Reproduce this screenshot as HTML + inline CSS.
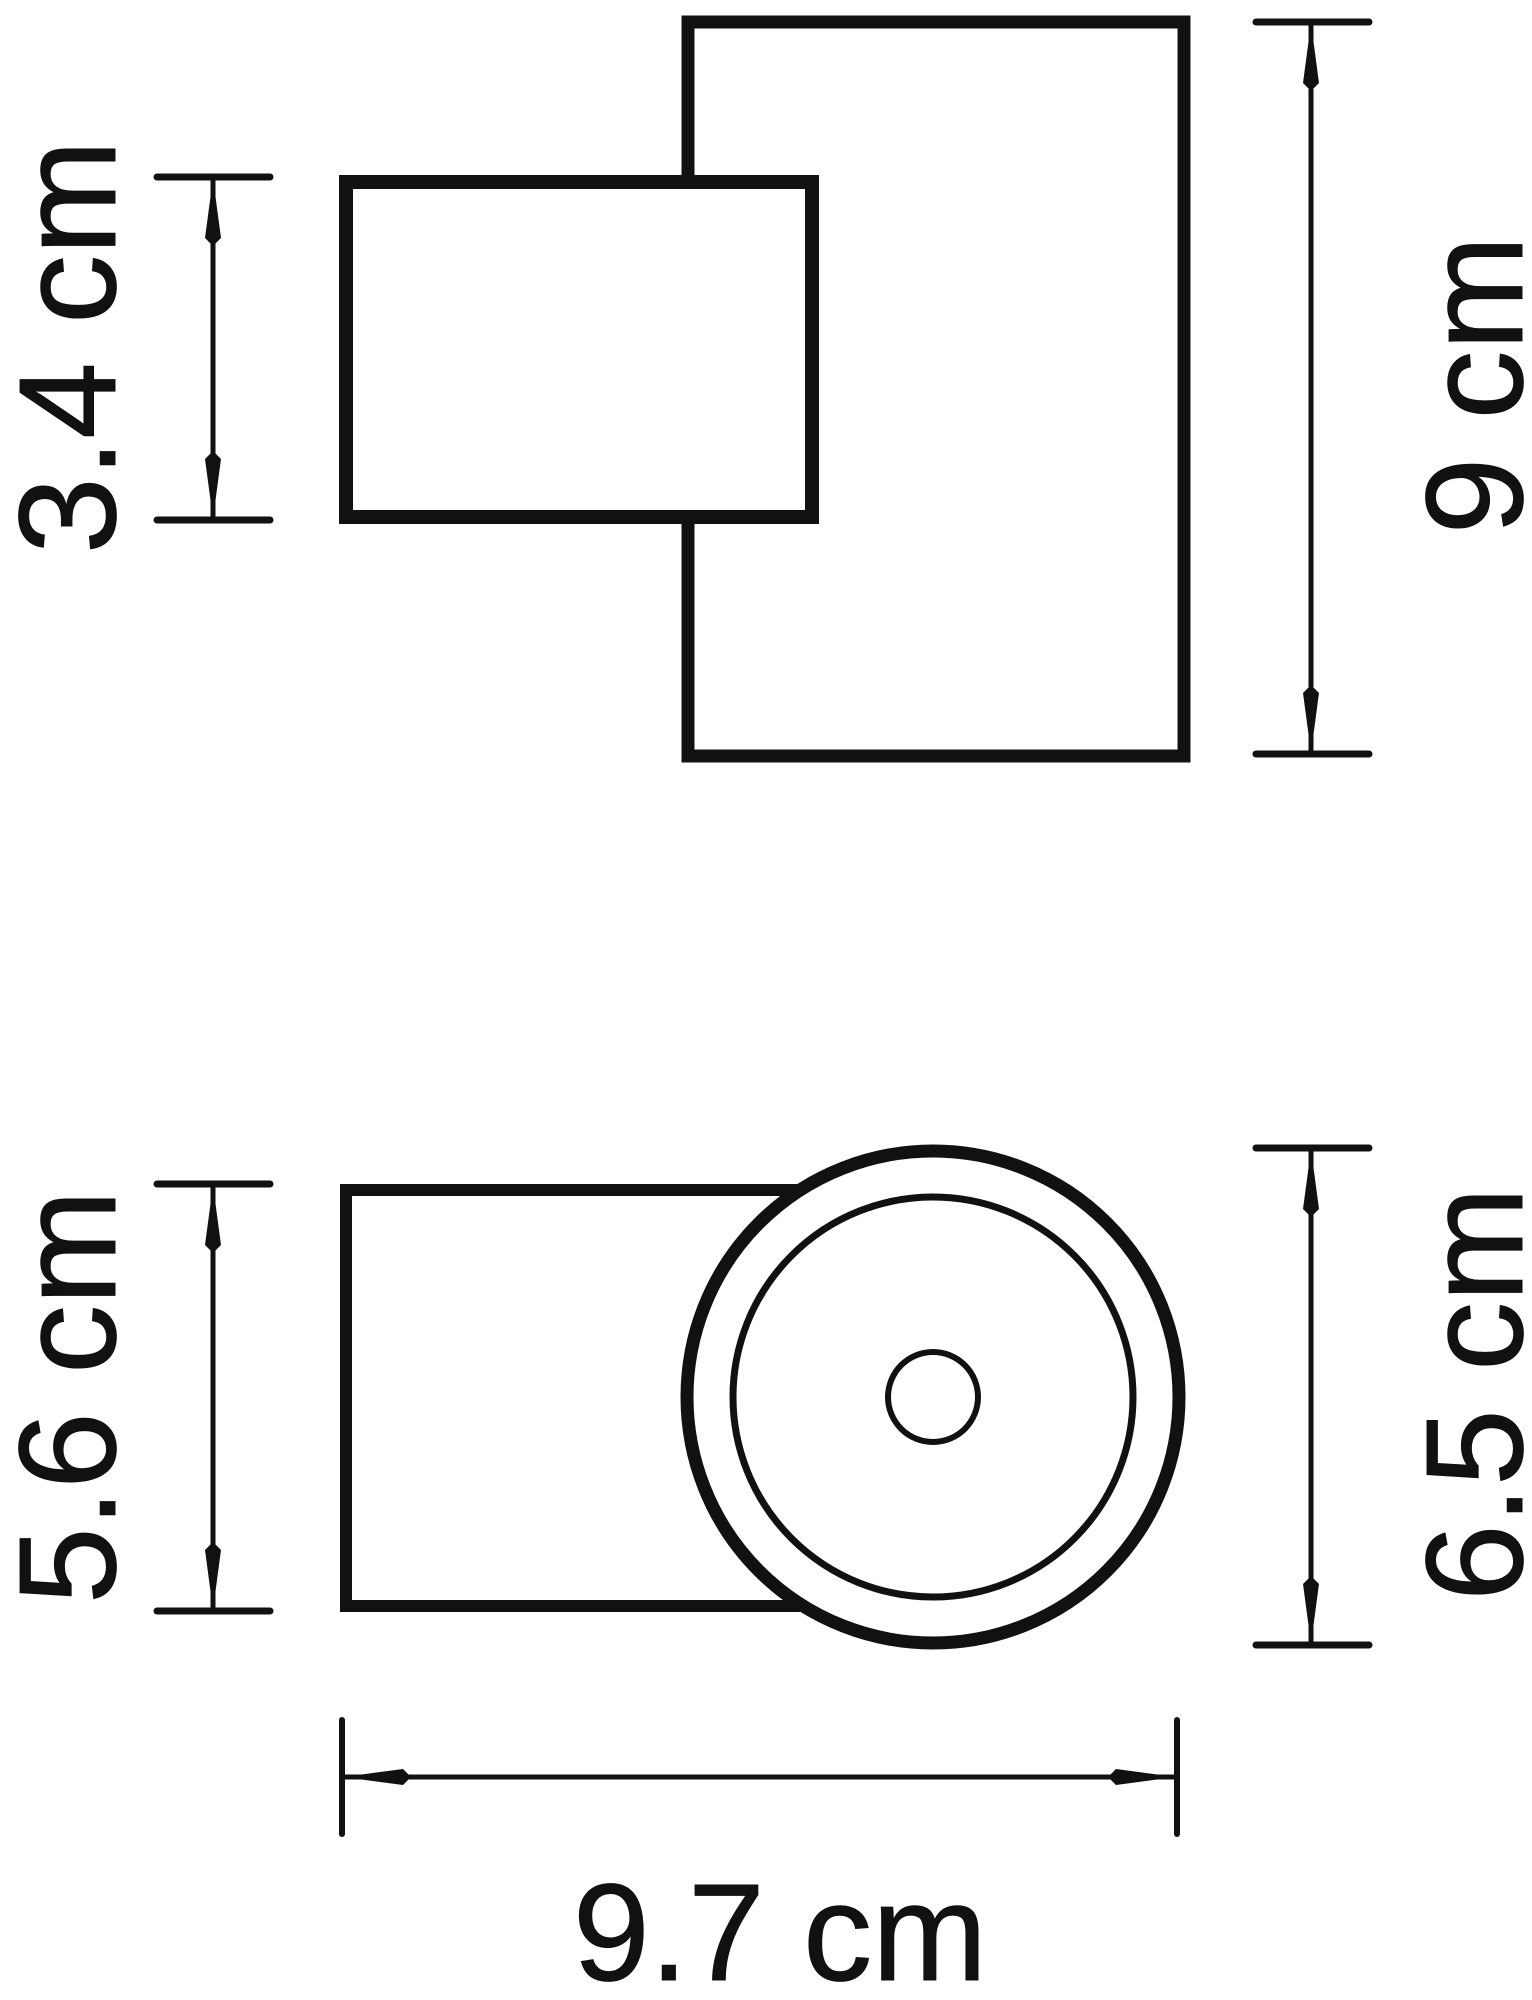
<!DOCTYPE html>
<html><head><meta charset="utf-8"><style>html,body{margin:0;padding:0;background:#fff}svg{display:block}</style></head>
<body>
<svg width="1532" height="2000" viewBox="0 0 1532 2000" xmlns="http://www.w3.org/2000/svg" font-family="Liberation Sans, sans-serif">
<g fill="none" stroke="#111" stroke-linecap="square">
<rect x="688" y="22" width="496" height="734" stroke-width="13"/>
<rect x="346" y="182" width="466" height="335" stroke-width="14" fill="#fff"/>
</g>
<g stroke="#111" stroke-linecap="round">
<line x1="157" y1="177" x2="270" y2="177" stroke-width="7"/>
<line x1="157" y1="520" x2="270" y2="520" stroke-width="7"/>
<line x1="213" y1="177" x2="213" y2="520" stroke-width="5"/>
<line x1="1256" y1="22" x2="1369" y2="22" stroke-width="7"/>
<line x1="1256" y1="754" x2="1369" y2="754" stroke-width="7"/>
<line x1="1311" y1="22" x2="1311" y2="754" stroke-width="5"/>
<line x1="157" y1="1184" x2="270" y2="1184" stroke-width="7"/>
<line x1="157" y1="1611" x2="270" y2="1611" stroke-width="7"/>
<line x1="213" y1="1184" x2="213" y2="1611" stroke-width="5"/>
<line x1="1256" y1="1148" x2="1369" y2="1148" stroke-width="7"/>
<line x1="1256" y1="1645" x2="1369" y2="1645" stroke-width="7"/>
<line x1="1311" y1="1148" x2="1311" y2="1645" stroke-width="5"/>
<line x1="342" y1="1720" x2="342" y2="1834" stroke-width="6"/>
<line x1="1177" y1="1720" x2="1177" y2="1834" stroke-width="6"/>
<line x1="342" y1="1777" x2="1177" y2="1777" stroke-width="5"/>
</g>
<g fill="#111">
<polygon points="213,178 221,238 213,246 205,238"/>
<polygon points="213,519 221,459 213,451 205,459"/>
<polygon points="1311,23 1319,83 1311,91 1303,83"/>
<polygon points="1311,753 1319,693 1311,685 1303,693"/>
<polygon points="213,1185 221,1245 213,1253 205,1245"/>
<polygon points="213,1610 221,1550 213,1542 205,1550"/>
<polygon points="1311,1149 1319,1209 1311,1217 1303,1209"/>
<polygon points="1311,1644 1319,1584 1311,1576 1303,1584"/>
<polygon points="343,1777 403,1769 411,1777 403,1785"/>
<polygon points="1176,1777 1116,1769 1108,1777 1116,1785"/>
</g>
<g fill="none" stroke="#111">
<polyline points="800,1190 346,1190 346,1606 800,1606" stroke-width="12"/>
<circle cx="933" cy="1397" r="246" stroke-width="13" fill="#fff"/>
<circle cx="933" cy="1397" r="200" stroke-width="7"/>
<circle cx="933" cy="1397" r="45" stroke-width="6"/>
</g>
<g fill="#111" stroke="#111" stroke-width="1" font-size="138">
<text transform="translate(115,347) rotate(-90)" text-anchor="middle">3.4 cm</text>
<text transform="translate(1522,385) rotate(-90)" text-anchor="middle">9 cm</text>
<text transform="translate(115,1397) rotate(-90)" text-anchor="middle">5.6 cm</text>
<text transform="translate(1522,1394) rotate(-90)" text-anchor="middle">6.5 cm</text>
<text x="780" y="1980" text-anchor="middle">9.7 cm</text>
</g>
</svg>
</body></html>
